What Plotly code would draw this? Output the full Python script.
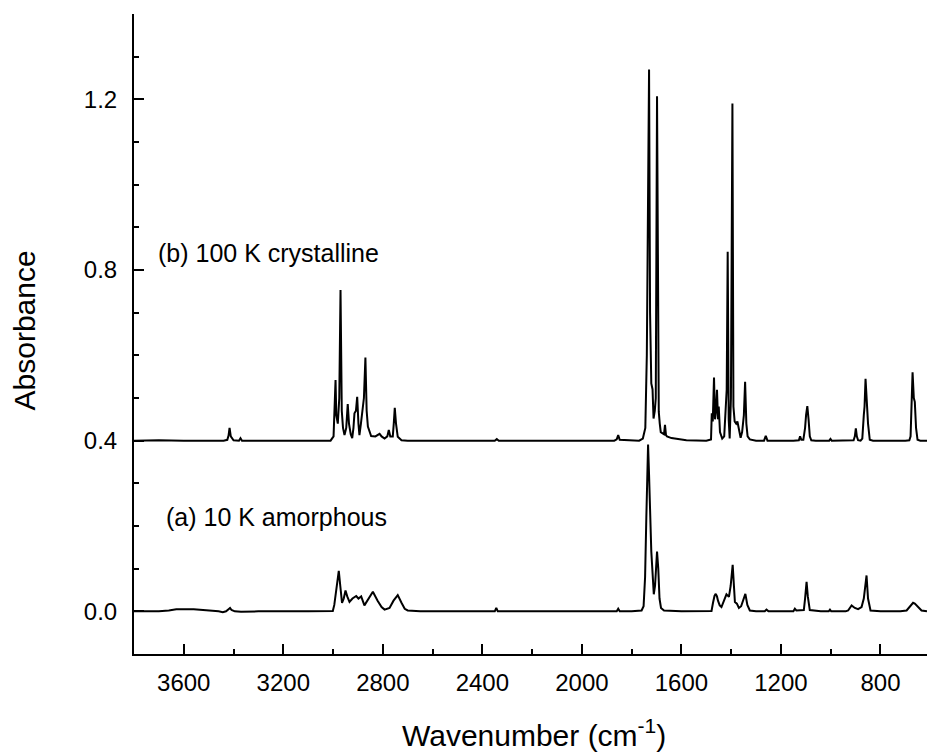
import plotly.graph_objects as go

# ---- (b) 100 K crystalline : wavenumber (cm-1) and absorbance
b_wavenumber = [
    3800, 3700, 3600, 3500, 3440, 3425, 3420, 3416, 3411, 3400,
    3378, 3372, 3366, 3300, 3100, 3010,
    2998, 2993, 2990, 2987, 2981, 2975, 2970, 2965, 2960, 2954,
    2947, 2941, 2936, 2929, 2923, 2918, 2914, 2908, 2903, 2898,
    2894, 2888, 2883, 2876, 2870, 2865, 2860, 2853, 2847, 2830,
    2820, 2813, 2805, 2793, 2782, 2776, 2770, 2760, 2756, 2752,
    2747, 2740, 2725, 2700,
    2500, 2350, 2342, 2334, 2100, 1870, 1860, 1854, 1848, 1800,
    1770, 1755, 1745, 1739, 1734, 1730, 1726, 1721, 1716, 1712,
    1707, 1703, 1698, 1694, 1691, 1687, 1683, 1670, 1666, 1662,
    1658, 1640, 1620, 1580,
    1500, 1485, 1481, 1478, 1474, 1469, 1465, 1461, 1457, 1453,
    1450, 1445, 1436, 1428, 1422, 1418, 1414, 1410, 1406, 1401,
    1395, 1391, 1386, 1380, 1375, 1370, 1362, 1356, 1349, 1344,
    1339, 1334, 1325, 1300,
    1268, 1261, 1254, 1150, 1128, 1123, 1118, 1110, 1103, 1099,
    1094, 1089, 1084, 1078, 1060, 1006, 1001, 996, 920, 908,
    903, 899, 895, 890, 880, 873, 867, 864, 860, 855,
    850, 843, 830, 700, 684, 679, 675, 671, 666, 662,
    657, 651, 640, 613,
]
b_absorbance = [
    0.400, 0.401, 0.400, 0.401, 0.400, 0.402, 0.412, 0.430, 0.410, 0.401,
    0.400, 0.406, 0.400, 0.400, 0.400, 0.400,
    0.410, 0.470, 0.542, 0.460, 0.440, 0.500, 0.753, 0.470, 0.430, 0.413,
    0.430, 0.486, 0.440, 0.415, 0.406, 0.430, 0.464, 0.470, 0.503, 0.440,
    0.413, 0.440, 0.468, 0.500, 0.595, 0.470, 0.433, 0.418, 0.411, 0.410,
    0.413, 0.416, 0.410, 0.405, 0.410, 0.425, 0.410, 0.410, 0.440, 0.477,
    0.440, 0.409, 0.401, 0.400,
    0.400, 0.400, 0.404, 0.400, 0.400, 0.400, 0.403, 0.413, 0.402, 0.400,
    0.400, 0.405, 0.430, 0.600, 0.980, 1.270, 0.700, 0.534, 0.520, 0.452,
    0.470, 0.500, 1.207, 0.600, 0.468, 0.440, 0.420, 0.415, 0.437, 0.413,
    0.410, 0.406, 0.404, 0.401,
    0.400, 0.401, 0.403, 0.464, 0.445, 0.548, 0.450, 0.470, 0.519, 0.450,
    0.480, 0.420, 0.405, 0.410, 0.470, 0.520, 0.843, 0.450, 0.405, 0.500,
    1.190, 0.480, 0.445, 0.440, 0.445, 0.430, 0.407, 0.420, 0.460, 0.538,
    0.440, 0.410, 0.403, 0.400,
    0.400, 0.411, 0.400, 0.400, 0.401, 0.410, 0.402, 0.402, 0.430, 0.460,
    0.481, 0.450, 0.410, 0.401, 0.400, 0.400, 0.404, 0.400, 0.400, 0.401,
    0.410, 0.429, 0.410, 0.401, 0.400, 0.405, 0.460, 0.480, 0.545, 0.483,
    0.440, 0.402, 0.400, 0.400, 0.401, 0.410, 0.470, 0.560, 0.500, 0.491,
    0.430, 0.402, 0.400, 0.400,
]

# ---- (a) 10 K amorphous
a_wavenumber = [
    3800, 3700, 3660, 3630, 3560, 3500, 3460, 3443, 3430, 3420,
    3414, 3408, 3395, 3370, 3300, 3100, 3010, 3001,
    2995, 2990, 2983, 2977, 2971, 2964, 2957, 2950, 2943, 2934,
    2922, 2907, 2898, 2887, 2874, 2858, 2840, 2821, 2805, 2793,
    2773, 2757, 2740, 2725, 2712, 2700, 2650,
    2500, 2350, 2344, 2338, 2100, 1860, 1854, 1848, 1800, 1760,
    1752, 1746, 1741, 1737, 1734, 1730, 1726, 1721, 1716, 1711,
    1706, 1702, 1698, 1693, 1688, 1682, 1670, 1600,
    1500, 1479, 1473, 1467, 1462, 1457, 1453, 1446, 1439, 1430,
    1419, 1409, 1402, 1394, 1389, 1385, 1377, 1369, 1360, 1352,
    1343, 1335, 1325, 1300,
    1265, 1258, 1250, 1150, 1144, 1138, 1108, 1103, 1097, 1092,
    1084, 1040, 1008, 1003, 998, 940, 930, 916, 903, 890,
    876, 867, 861, 856, 850, 840, 800, 720, 695, 682,
    675, 669, 662, 655, 645, 635, 613,
]
a_absorbance = [
    0.000, 0.000, 0.002, 0.005, 0.005, 0.003, 0.000, -0.002, 0.000, 0.005,
    0.008, 0.003, 0.000, -0.001, 0.000, 0.000, 0.000, 0.001,
    0.015, 0.040, 0.080, 0.095, 0.060, 0.020, 0.030, 0.049, 0.035, 0.022,
    0.030, 0.036, 0.030, 0.035, 0.014, 0.030, 0.046, 0.025, 0.010, 0.004,
    0.008, 0.025, 0.038, 0.020, 0.006, 0.002, 0.000,
    0.000, 0.000, 0.008, 0.000, 0.000, 0.000, 0.006, 0.000, 0.000, 0.002,
    0.012, 0.080, 0.220, 0.360, 0.391, 0.320, 0.200, 0.140, 0.090, 0.040,
    0.060, 0.120, 0.140, 0.100, 0.030, 0.008, 0.002, 0.000,
    0.000, 0.001, 0.020, 0.036, 0.041, 0.035, 0.025, 0.014, 0.010, 0.025,
    0.040, 0.034, 0.060, 0.109, 0.060, 0.022, 0.018, 0.008, 0.012, 0.025,
    0.041, 0.015, 0.002, 0.000,
    0.000, 0.004, 0.000, 0.000, 0.006, 0.002, 0.003, 0.030, 0.069, 0.035,
    0.003, 0.000, 0.000, 0.004, 0.000, 0.000, 0.002, 0.014, 0.008, 0.005,
    0.010, 0.030, 0.060, 0.084, 0.030, 0.002, 0.000, 0.000, 0.002, 0.010,
    0.016, 0.020, 0.018, 0.014, 0.006, 0.002, 0.000,
]

assert len(b_wavenumber) == len(b_absorbance), (len(b_wavenumber), len(b_absorbance))
assert len(a_wavenumber) == len(a_absorbance), (len(a_wavenumber), len(a_absorbance))

series_labels = ["(b) 100 K crystalline", "(a) 10 K amorphous"]
x_title = "Wavenumber (cm<sup>-1</sup>)"
y_title = "Absorbance"

FONT = "Liberation Sans, Arial, sans-serif"

fig = go.Figure()
fig.add_trace(go.Scatter(x=b_wavenumber, y=b_absorbance, mode="lines",
                         line=dict(color="black", width=2), showlegend=False))
fig.add_trace(go.Scatter(x=a_wavenumber, y=a_absorbance, mode="lines",
                         line=dict(color="black", width=2), showlegend=False))

fig.add_annotation(x=3710, y=0.840, xref="x", yref="y", text=series_labels[0],
                   showarrow=False, xanchor="left", yanchor="middle",
                   font=dict(family=FONT, size=25, color="black"))
fig.add_annotation(x=3678, y=0.221, xref="x", yref="y", text=series_labels[1],
                   showarrow=False, xanchor="left", yanchor="middle",
                   font=dict(family=FONT, size=25, color="black"))

# axis titles
fig.add_annotation(x=-0.1379, y=0.505, xref="paper", yref="paper", text=y_title,
                   textangle=-90, showarrow=False, xanchor="center", yanchor="middle",
                   font=dict(family=FONT, size=30, color="black"))
fig.add_annotation(x=0.505, y=-0.124, xref="paper", yref="paper", text=x_title,
                   showarrow=False, xanchor="center", yanchor="middle",
                   font=dict(family=FONT, size=30, color="black"))

fig.update_layout(
    width=927, height=752,
    margin=dict(l=134, r=0, t=14, b=98),
    paper_bgcolor="white", plot_bgcolor="white",
    font=dict(family=FONT, color="black"),
    showlegend=False,
)
fig.update_xaxes(
    range=[3800, 613], showgrid=False, zeroline=False,
    showline=True, linecolor="black", linewidth=2, mirror=False,
    ticks="inside", ticklen=10, tickwidth=2, tickcolor="black",
    tick0=0, dtick=400, tickfont=dict(family=FONT, size=24, color="black"),
    ticklabelstandoff=6,
    minor=dict(ticks="inside", ticklen=5, tickwidth=2, tickcolor="black", dtick=200, tick0=0, showgrid=False),
)
fig.update_yaxes(
    range=[-0.1, 1.4], showgrid=False, zeroline=False,
    showline=True, linecolor="black", linewidth=2, mirror=False,
    ticks="inside", ticklen=10, tickwidth=2, tickcolor="black",
    tick0=0, dtick=0.4, tickformat=".1f", tickfont=dict(family=FONT, size=24, color="black"),
    ticklabelstandoff=10,
    minor=dict(ticks="inside", ticklen=5, tickwidth=2, tickcolor="black", dtick=0.1, tick0=0, showgrid=False),
)

fig.write_html(
    "out.html",
    config={"displayModeBar": False},
    post_script="document.body.style.margin='0';document.body.style.overflow='hidden';"
                "document.documentElement.style.overflow='hidden';",
)
